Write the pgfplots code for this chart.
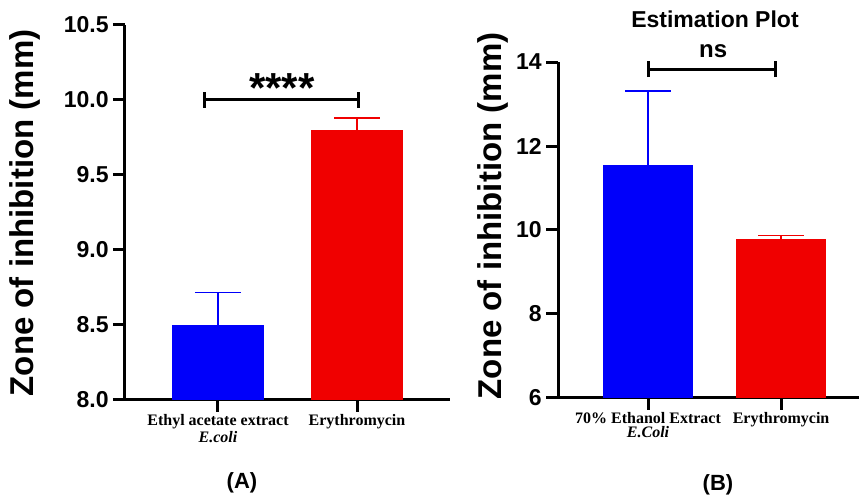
\documentclass[border=0pt]{standalone}
\usepackage{pgfplots}
\pgfplotsset{compat=1.18}
\usepackage{fontspec}
\setmainfont{Liberation Serif}
\setsansfont{Liberation Sans}
\definecolor{barblue}{RGB}{0,0,250}
\definecolor{barred}{RGB}{240,0,0}

\pgfplotsset{
  panel/.style={
    scale only axis,
    axis x line=bottom, axis y line=left,
    axis line style={line width=1.5pt,-},
    tick align=outside,
    major tick length=6pt,
    tick style={line width=1.5pt, black},
    xtick={0,1},
    ybar, bar shift=0pt,
    clip mode=individual,
    /pgf/number format/assume math mode=true,
    yticklabel style={font=\fontsize{11.5}{12}\selectfont\sffamily\bfseries, inner sep=2pt},
    xticklabel style={font=\fontsize{8}{7}\selectfont\bfseries, align=center, inner sep=1pt},
  },
  bluebar/.style={fill=barblue, draw=barblue, error bars/.cd, y dir=plus, y explicit,
    error bar style={line width=0.6pt, barblue},
    error mark options={rotate=90, line width=0.6pt, barblue, mark size=11.5pt}},
  redbar/.style={fill=barred, draw=barred, error bars/.cd, y dir=plus, y explicit,
    error bar style={line width=0.6pt, barred},
    error mark options={rotate=90, line width=0.6pt, barred, mark size=11.5pt}},
}

\begin{document}
\begin{tikzpicture}
\path[use as bounding box] (0,0) rectangle (429.5pt,248.5pt);

% Panel A
\begin{axis}[panel,
  at={(62.5pt,48.5pt)}, anchor=south west,
  width=162.5pt, height=187.5pt,
  xmin=-0.669, xmax=1.669, ymin=8, ymax=10.5,
  bar width=0.66,
  ytick={8,8.5,9,9.5,10,10.5},
  yticklabel style={/pgf/number format/.cd, fixed, fixed zerofill, precision=1},
  xticklabels={{Ethyl acetate extract\\\textit{E.coli}}, Erythromycin},
]
\addplot[bluebar] coordinates {(0,8.5) +- (0,0.215)};
\addplot[redbar] coordinates {(1,9.8) +- (0,0.08)};
\draw[line width=1.5pt] (axis cs:-0.094,10) -- (axis cs:1.014,10);
\draw[line width=1.5pt] ([yshift=-4pt]axis cs:-0.094,10) -- ([yshift=4pt]axis cs:-0.094,10);
\draw[line width=1.5pt] ([yshift=-4pt]axis cs:1.014,10) -- ([yshift=4pt]axis cs:1.014,10);
\node[anchor=base, font=\fontsize{21}{21}\selectfont\sffamily\bfseries, inner sep=0pt] at (axis cs:0.46,9.98) {****};
\end{axis}

% Panel B
\begin{axis}[panel,
  at={(279pt,49.5pt)}, anchor=south west,
  width=150.5pt, height=168pt,
  xmin=-0.677, xmax=1.586, ymin=6, ymax=14,
  bar width=0.67,
  ytick={6,8,10,12,14},
  xticklabels={{70\% Ethanol Extract\\\textit{E.Coli}}, Erythromycin},
]
\addplot[bluebar] coordinates {(0,11.53) +- (0,1.78)};
\addplot[redbar] coordinates {(1,9.78) +- (0,0.08)};
\draw[line width=1.5pt] (axis cs:0.0,13.83) -- (axis cs:0.96,13.83);
\draw[line width=1.5pt] ([yshift=-4pt]axis cs:0.0,13.83) -- ([yshift=4pt]axis cs:0.0,13.83);
\draw[line width=1.5pt] ([yshift=-4pt]axis cs:0.96,13.83) -- ([yshift=4pt]axis cs:0.96,13.83);
\node[font=\fontsize{12}{12}\selectfont\sffamily\bfseries, inner sep=0pt] at (axis cs:0.49,14.26) {ns};
\end{axis}

\node[rotate=90, font=\fontsize{16.5}{17}\selectfont\sffamily\bfseries] at (12.5pt,142pt) {Zone of inhibition (mm)};
\node[rotate=90, font=\fontsize{16.5}{17}\selectfont\sffamily\bfseries] at (246.5pt,140.5pt) {Zone of inhibition (mm)};
\node[font=\fontsize{11.5}{12}\selectfont\sffamily\bfseries] at (357.5pt,239pt) {Estimation Plot};
\node[font=\fontsize{11}{12}\selectfont\sffamily\bfseries] at (121pt,7pt) {(A)};
\node[font=\fontsize{11}{12}\selectfont\sffamily\bfseries] at (359pt,6pt) {(B)};
\end{tikzpicture}
\end{document}
